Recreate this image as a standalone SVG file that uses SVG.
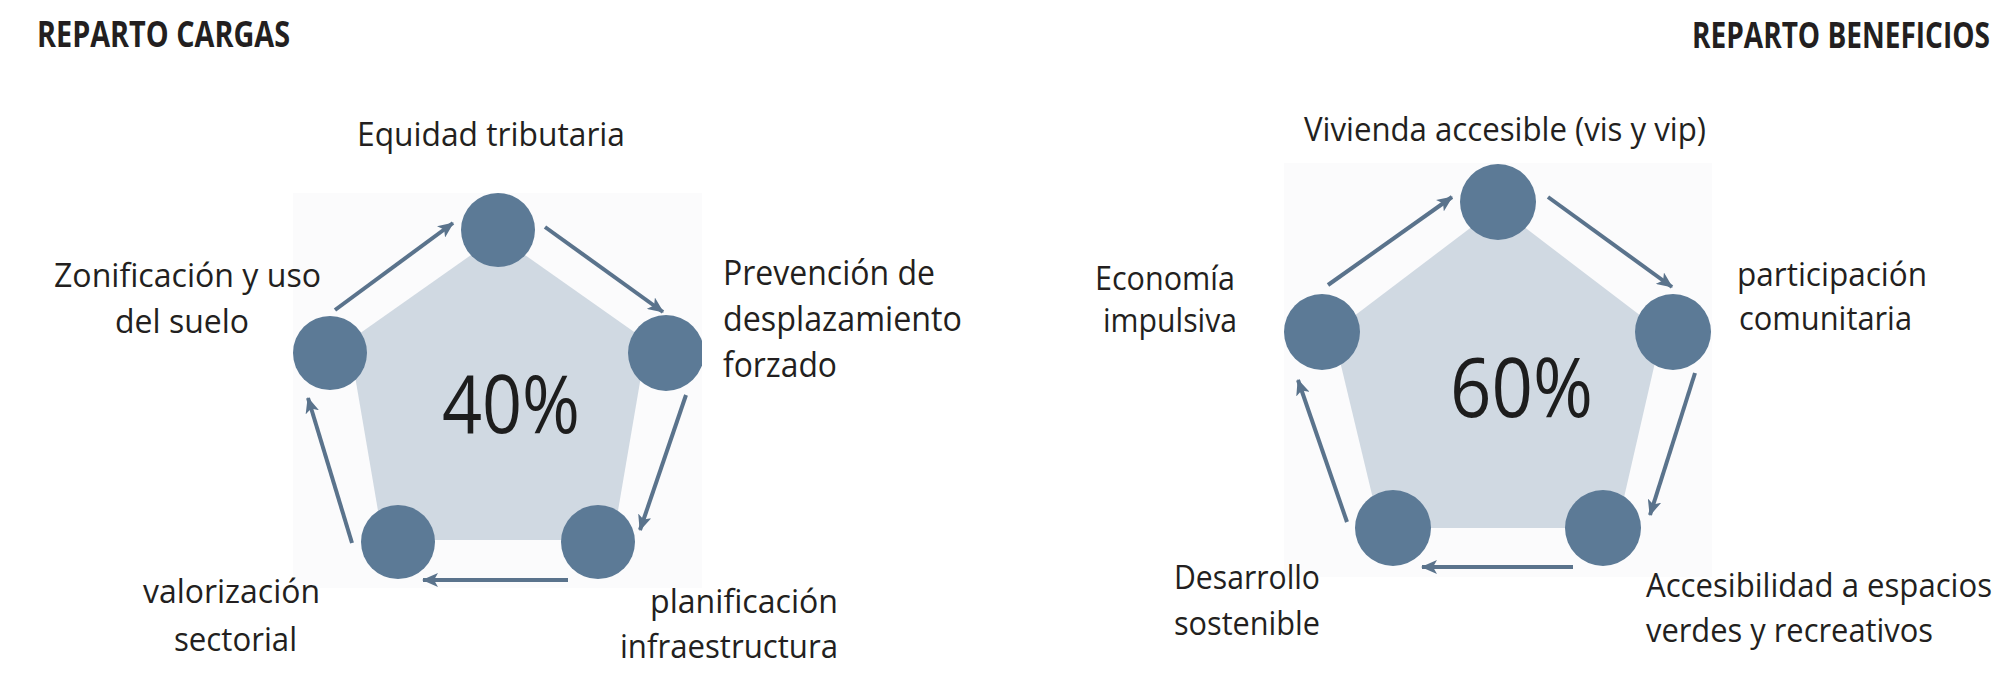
<svg xmlns="http://www.w3.org/2000/svg" width="2002" height="683" viewBox="0 0 2002 683">
  <style>
    .title { font-family: "Open Sans", "Liberation Sans", sans-serif; font-weight: 700; font-size: 35px; fill: #231f20; }
    .lbl { font-family: "Open Sans", "Liberation Sans", sans-serif; font-size: 32px; fill: #231f20; }
    .lbl2 { font-family: "Open Sans", "Liberation Sans", sans-serif; font-size: 35px; fill: #231f20; }
    .pct { font-family: "Open Sans", "Liberation Sans", sans-serif; font-size: 80px; fill: #1d1d1d; }
    .node { fill: #5c7a96; }
    .pent { fill: #d0d9e2; }
    .bg { fill: #fbfbfc; }
    .arrow { stroke: #5a738c; stroke-width: 4; fill: none; marker-end: url(#ah); }
  </style>
  <defs>
    <marker id="ah" markerUnits="userSpaceOnUse" viewBox="0 0 16 14" markerWidth="16" markerHeight="14" refX="15" refY="7" orient="auto">
      <path d="M0,0 L16,7 L0,14 L4,7 Z" fill="#5a738c"/>
    </marker>
    <clipPath id="clipL"><rect x="280" y="180" width="422" height="420"/></clipPath>
    <clipPath id="clipR"><rect x="1270" y="150" width="442" height="440"/></clipPath>
  </defs>
  <rect width="2002" height="683" fill="#ffffff"/>

  <text class="title" x="37" y="47" textLength="253" lengthAdjust="spacingAndGlyphs">REPARTO CARGAS</text>
  <text class="title" x="1990" y="48" text-anchor="end" textLength="298" lengthAdjust="spacingAndGlyphs">REPARTO BENEFICIOS</text>

  <!-- Left diagram backdrop -->
  <g id="cargas-backdrop">
    <rect class="bg" x="293" y="193" width="409" height="395"/>
    <polygon class="pent" points="498,236 647,341 613,540 383,540 349,341"/>
    <text class="pct" x="442" y="433" textLength="138" lengthAdjust="spacingAndGlyphs">40%</text>
  </g>

  <!-- Right diagram backdrop -->
  <g id="beneficios-backdrop">
    <rect class="bg" x="1284" y="163" width="428" height="414"/>
    <polygon class="pent" points="1498,207 1662,332 1617,528 1380,528 1333,332"/>
    <text class="pct" x="1450" y="417" textLength="143" lengthAdjust="spacingAndGlyphs" style="font-size:83px">60%</text>
  </g>

  <g id="connectors">
    <line class="arrow" x1="335" y1="310" x2="453" y2="223"/>
    <line class="arrow" x1="545" y1="227" x2="663" y2="312"/>
    <line class="arrow" x1="686" y1="395" x2="640" y2="530"/>
    <line class="arrow" x1="568" y1="580" x2="423" y2="580"/>
    <line class="arrow" x1="352" y1="543" x2="308" y2="398"/>

    <line class="arrow" x1="1328" y1="285" x2="1452" y2="197"/>
    <line class="arrow" x1="1548" y1="197" x2="1672" y2="287"/>
    <line class="arrow" x1="1695" y1="373" x2="1650" y2="515"/>
    <line class="arrow" x1="1573" y1="567" x2="1422" y2="567"/>
    <line class="arrow" x1="1347" y1="522" x2="1298" y2="380"/>
  </g>

  <!-- Left nodes -->
  <g id="equidad-tributaria">
    <circle class="node" cx="498" cy="230" r="37"/>
    <text class="lbl" x="357" y="146" textLength="268" lengthAdjust="spacingAndGlyphs">Equidad tributaria</text>
  </g>
  <g id="prevencion-desplazamiento">
    <circle class="node" cx="666" cy="353" r="38" clip-path="url(#clipL)"/>
    <text class="lbl2" x="723" y="285" textLength="212" lengthAdjust="spacingAndGlyphs">Prevención de</text>
    <text class="lbl2" x="723" y="331" textLength="239" lengthAdjust="spacingAndGlyphs">desplazamiento</text>
    <text class="lbl2" x="723" y="377" textLength="114" lengthAdjust="spacingAndGlyphs">forzado</text>
  </g>
  <g id="planificacion-infraestructura">
    <circle class="node" cx="598" cy="542" r="37"/>
    <text class="lbl" x="650" y="613" textLength="188" lengthAdjust="spacingAndGlyphs">planificación</text>
    <text class="lbl" x="620" y="658" textLength="218" lengthAdjust="spacingAndGlyphs">infraestructura</text>
  </g>
  <g id="valorizacion-sectorial">
    <circle class="node" cx="398" cy="542" r="37"/>
    <text class="lbl" x="143" y="603" textLength="177" lengthAdjust="spacingAndGlyphs">valorización</text>
    <text class="lbl" x="174" y="651" textLength="123" lengthAdjust="spacingAndGlyphs">sectorial</text>
  </g>
  <g id="zonificacion-uso-suelo">
    <circle class="node" cx="330" cy="353" r="37"/>
    <text class="lbl" x="54" y="287" textLength="267" lengthAdjust="spacingAndGlyphs">Zonificación y uso</text>
    <text class="lbl" x="115" y="333" textLength="134" lengthAdjust="spacingAndGlyphs">del suelo</text>
  </g>

  <!-- Right nodes -->
  <g id="vivienda-accesible">
    <circle class="node" cx="1498" cy="202" r="38"/>
    <text class="lbl" x="1304" y="141" textLength="402" lengthAdjust="spacingAndGlyphs">Vivienda accesible (vis y vip)</text>
  </g>
  <g id="participacion-comunitaria">
    <circle class="node" cx="1673" cy="332" r="38" clip-path="url(#clipR)"/>
    <text class="lbl" x="1737" y="286" textLength="190" lengthAdjust="spacingAndGlyphs">participación</text>
    <text class="lbl" x="1739" y="330" textLength="173" lengthAdjust="spacingAndGlyphs">comunitaria</text>
  </g>
  <g id="accesibilidad-espacios">
    <circle class="node" cx="1603" cy="528" r="38"/>
    <text class="lbl" x="1646" y="597" textLength="346" lengthAdjust="spacingAndGlyphs">Accesibilidad a espacios</text>
    <text class="lbl" x="1646" y="642" textLength="287" lengthAdjust="spacingAndGlyphs">verdes y recreativos</text>
  </g>
  <g id="desarrollo-sostenible">
    <circle class="node" cx="1393" cy="528" r="38"/>
    <text class="lbl" x="1174" y="589" textLength="146" lengthAdjust="spacingAndGlyphs">Desarrollo</text>
    <text class="lbl" x="1174" y="635" textLength="146" lengthAdjust="spacingAndGlyphs">sostenible</text>
  </g>
  <g id="economia-impulsiva">
    <circle class="node" cx="1322" cy="332" r="38"/>
    <text class="lbl" x="1095" y="290" textLength="140" lengthAdjust="spacingAndGlyphs">Economía</text>
    <text class="lbl" x="1103" y="332" textLength="134" lengthAdjust="spacingAndGlyphs">impulsiva</text>
  </g>
</svg>
